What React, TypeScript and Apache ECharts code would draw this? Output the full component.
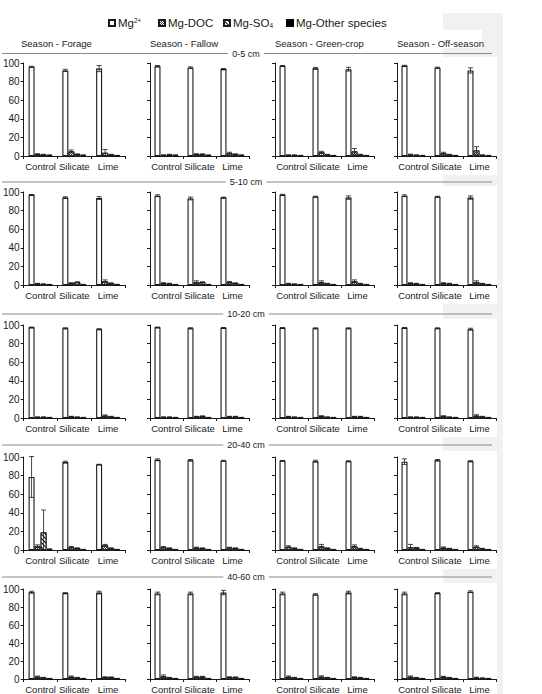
import React, { useEffect, useRef } from "react";
import * as echarts from "echarts";

const treatments = ["Control", "Silicate", "Lime"];
const seasons = ["Season - Forage", "Season - Fallow", "Season - Green-crop", "Season - Off-season"];
const depths = ["0-5 cm", "5-10 cm", "10-20 cm", "20-40 cm", "40-60 cm"];
const speciesNames = ["Mg2+", "Mg-DOC", "Mg-SO4", "Mg-Other species"];
const yTicks = [0, 20, 40, 60, 80, 100];

// Rows = soil depth; 12 values = 4 seasons x (Control, Silicate, Lime)
const mgFree = [
  [96, 92, 94, 96.5, 95, 93.5, 96.8, 94.3, 93.3, 97, 95, 92],
  [97, 94, 93.5, 96, 93, 94, 97, 95, 94, 96, 95, 94],
  [97.5, 96.5, 95.5, 97.5, 96.5, 97, 97, 96.5, 96.5, 97, 96.5, 95.5],
  [78.5, 94.5, 92, 97, 96.5, 96, 96, 95.5, 95.5, 95, 96.5, 95.5],
  [96.5, 95.5, 96, 95, 95, 96, 95, 94, 96, 95, 95.5, 97],
];
const mgFreeErr = [
  [0.5, 1.2, 3.3, 0.8, 0.8, 0.6, 0.5, 1, 2, 0.5, 0.5, 2.8],
  [0.3, 0.8, 1.5, 1, 1.5, 0.5, 0.5, 0.5, 1.8, 1, 0.5, 1.8],
  [0.3, 0.6, 0.6, 0.3, 0.6, 0.3, 0.3, 0.5, 0.5, 0.3, 0.5, 1],
  [22, 1, 0.2, 1, 0.8, 0.5, 0.3, 1, 0.5, 3, 0.8, 0.6],
  [1, 0.5, 1.5, 1.5, 1.5, 2.5, 1.5, 0.8, 1.5, 1.5, 0.5, 1],
];
const mgDoc = [
  [2, 5, 3.5, 1, 2, 3, 1, 4, 5, 1.5, 3, 6],
  [1.5, 2, 4, 2, 3, 3, 1.5, 3, 4, 2, 2, 3],
  [1, 1.5, 2.5, 1, 1.5, 1.5, 1.5, 2, 1.5, 1, 2, 2.5],
  [4, 3, 5, 3, 2.5, 2.5, 3.5, 4, 4, 3, 2.5, 3.5],
  [2.5, 2.5, 2, 3, 2.5, 2, 2.5, 2.5, 2, 2.5, 2.5, 1.5],
];
const mgDocErr = [
  [0.5, 1.5, 3.5, 0.3, 0.5, 1, 0.3, 1, 3, 0.5, 1, 4],
  [0.3, 0.5, 1.5, 0.5, 1.5, 0.8, 0.3, 1.5, 1.5, 0.5, 0.5, 1.5],
  [0.2, 0.3, 0.8, 0.2, 0.3, 0.3, 0.3, 0.5, 0.3, 0.2, 0.5, 1],
  [1.5, 0.8, 1, 0.8, 0.5, 0.5, 1, 2, 1.5, 3, 0.8, 1],
  [0.8, 0.8, 0.5, 1.5, 0.5, 0.5, 0.8, 1, 0.5, 0.8, 0.5, 0.5],
];
const mgSo4 = [
  [1.5, 2, 1.5, 1.5, 2, 2, 1, 1.5, 1.5, 1, 1.5, 1],
  [1, 3, 2, 1.5, 3, 2, 1, 1.5, 1.5, 1.5, 1.5, 1.5],
  [1, 1, 1.5, 1, 2, 1.5, 1, 1, 1.5, 1, 1, 1.5],
  [19, 2, 2, 2, 2, 2, 2, 2, 1.5, 2.5, 1.5, 1.5],
  [1.5, 1.5, 2, 1.5, 2.5, 2, 1.5, 1.5, 1.5, 1.5, 1.5, 1],
];
const mgSo4Err = [
  [0.3, 0.3, 0.3, 0.3, 0.3, 0.3, 0.3, 0.3, 0.3, 0.3, 0.3, 0.3],
  [0.3, 0.5, 0.3, 0.3, 0.5, 0.3, 0.3, 0.3, 0.3, 0.3, 0.3, 0.3],
  [0.2, 0.2, 0.3, 0.2, 0.3, 0.3, 0.2, 0.2, 0.3, 0.2, 0.2, 0.3],
  [24, 0.3, 0.3, 0.3, 0.3, 0.3, 0.3, 0.3, 0.3, 0.3, 0.3, 0.3],
  [0.3, 0.3, 0.3, 0.3, 0.5, 0.3, 0.3, 0.3, 0.3, 0.3, 0.3, 0.3],
];
const mgOther = [
  [1, 1, 0.5, 1, 1, 1, 0.5, 0.5, 0.5, 0.5, 0.5, 0.5],
  [0.5, 0.5, 0.5, 0.5, 0.5, 0.5, 0.5, 0.5, 0.5, 0.5, 0.5, 0.5],
  [0.5, 0.5, 0.5, 0.5, 0.5, 0.5, 0.5, 0.5, 0.5, 0.5, 0.5, 0.5],
  [1, 0.5, 0.5, 0.5, 0.5, 0.5, 0.5, 0.5, 0.5, 0.5, 0.5, 0.5],
  [0.5, 0.5, 0.5, 0.5, 0.5, 0.5, 0.5, 0.5, 0.5, 0.5, 0.5, 0.5],
];
const mgOtherErr = [
  [0.2, 0.2, 0.2, 0.2, 0.2, 0.2, 0.2, 0.2, 0.2, 0.2, 0.2, 0.2],
  [0.2, 0.2, 0.2, 0.2, 0.2, 0.2, 0.2, 0.2, 0.2, 0.2, 0.2, 0.2],
  [0.2, 0.2, 0.2, 0.2, 0.2, 0.2, 0.2, 0.2, 0.2, 0.2, 0.2, 0.2],
  [0.2, 0.2, 0.2, 0.2, 0.2, 0.2, 0.2, 0.2, 0.2, 0.2, 0.2, 0.2],
  [0.2, 0.2, 0.2, 0.2, 0.2, 0.2, 0.2, 0.2, 0.2, 0.2, 0.2, 0.2],
];

const FONT = "'Liberation Sans', Arial, Helvetica, sans-serif";
const INK = "#1a1a1a";
const BAR_W = 6;

const gridLefts = [21, 150, 275, 397];
const gridWidths = [104, 99, 99, 99];
const gridTops = [63, 192, 325, 457, 589];
const GRID_H = 93;
const depthLineY = [53.5, 182, 314, 445, 577];
const legendLefts = [108, 158, 223, 286];

const docDecal = {
  symbol: "rect",
  symbolSize: 1,
  color: "#3a3a3a",
  dashArrayX: [[1, 1], [0, 1, 1, 0]],
  dashArrayY: [1, 0],
};
const so4Decal = {
  symbol: "rect",
  symbolSize: 1,
  color: "#000",
  dashArrayX: [1, 0],
  dashArrayY: [1, 2],
  rotation: Math.PI / 4,
};

const itemStyles: any[] = [
  { color: "#fff", borderColor: INK, borderWidth: 1.1 },
  { color: "#fff", borderColor: INK, borderWidth: 0.8, decal: docDecal },
  { color: "#fff", borderColor: INK, borderWidth: 0.8, decal: so4Decal },
  { color: "#000", borderColor: "#000", borderWidth: 0.8 },
];

const values = [mgFree, mgDoc, mgSo4, mgOther];
const errors = [mgFreeErr, mgDocErr, mgSo4Err, mgOtherErr];

function legendFormatter(name: string) {
  if (name === "Mg2+") return "{b|Mg}{sup|2+}";
  if (name === "Mg-SO4") return "{b|Mg-SO}{sub|4}";
  return "{b|" + name + "}";
}

export default function App() {
  const ref = useRef<HTMLDivElement>(null);
  useEffect(() => {
    const chart = echarts.init(ref.current!, null, { renderer: "svg" });
    const grid: any[] = [];
    const xAxis: any[] = [];
    const yAxis: any[] = [];
    const series: any[] = [];

    for (let r = 0; r < depths.length; r++) {
      for (let c = 0; c < seasons.length; c++) {
        const idx = r * seasons.length + c;
        grid.push({ left: gridLefts[c], top: gridTops[r], width: gridWidths[c], height: GRID_H });
        xAxis.push({
          type: "category",
          gridIndex: idx,
          data: treatments,
          axisLine: { show: true, lineStyle: { color: INK, width: 1 } },
          axisTick: { show: true, length: 3, lineStyle: { color: INK } },
          axisLabel: { interval: 0, fontSize: 9.5, fontFamily: FONT, color: INK, margin: 5 },
          splitLine: { show: false },
        });
        yAxis.push({
          type: "value",
          gridIndex: idx,
          min: yTicks[0],
          max: yTicks[yTicks.length - 1],
          interval: yTicks[1] - yTicks[0],
          axisLine: { show: true, lineStyle: { color: INK, width: 1 } },
          axisTick: { show: true, length: 3, lineStyle: { color: INK } },
          axisLabel: { show: c === 0, fontSize: 10, fontFamily: FONT, color: INK, margin: 4 },
          splitLine: { show: false },
        });
        const errData: any[] = [];
        for (let s = 0; s < 4; s++) {
          const vals = values[s][r].slice(c * 3, c * 3 + 3);
          const errs = errors[s][r].slice(c * 3, c * 3 + 3);
          series.push({
            type: "bar",
            name: speciesNames[s],
            xAxisIndex: idx,
            yAxisIndex: idx,
            data: vals,
            barWidth: BAR_W,
            barGap: "0%",
            itemStyle: itemStyles[s],
            emphasis: { disabled: true },
          });
          vals.forEach((v: number, k: number) => errData.push([k, v, errs[k], s]));
        }
        series.push({
          type: "custom",
          name: "err",
          xAxisIndex: idx,
          yAxisIndex: idx,
          z: 5,
          encode: { x: 0, y: 1 },
          data: errData,
          renderItem: (params: any, api: any) => {
            const k = api.value(0);
            const v = api.value(1);
            const e = api.value(2);
            const s = api.value(3);
            const mid = api.coord([k, v]);
            const hi = api.coord([k, v + e]);
            const lo = api.coord([k, Math.max(0, v - e)]);
            const x = mid[0] + (s - 1.5) * BAR_W;
            const half = 2.5;
            const st = { stroke: INK, lineWidth: 0.8 };
            return {
              type: "group",
              children: [
                { type: "line", shape: { x1: x, y1: hi[1], x2: x, y2: lo[1] }, style: st },
                { type: "line", shape: { x1: x - half, y1: hi[1], x2: x + half, y2: hi[1] }, style: st },
                { type: "line", shape: { x1: x - half, y1: lo[1], x2: x + half, y2: lo[1] }, style: st },
              ],
            };
          },
        });
      }
    }

    const graphic: any[] = [];
    // faint scan shading on the right side
    graphic.push({ type: "rect", z: -100, silent: true, shape: { x: 443, y: 13, width: 60, height: 681 }, style: { fill: "#f1f1f1" } });
    graphic.push({ type: "rect", z: -99, silent: true, shape: { x: 395, y: 30, width: 87, height: 18 }, style: { fill: "#fff" } });
    gridTops.forEach((t) => {
      graphic.push({ type: "rect", z: -99, silent: true, shape: { x: 395, y: t - 6, width: 102, height: 118 }, style: { fill: "#fff" } });
    });
    seasons.forEach((s, c) => {
      graphic.push({
        type: "text",
        x: gridLefts[c],
        y: 43,
        style: { text: s, fontSize: 9.5, fontFamily: FONT, fill: INK, verticalAlign: "middle", align: "left" },
      });
    });
    depths.forEach((d, r) => {
      graphic.push({
        type: "line",
        shape: { x1: 2, y1: depthLineY[r], x2: 492, y2: depthLineY[r] },
        style: { stroke: "#8a8a8a", lineWidth: 1 },
      });
      graphic.push({
        type: "text",
        x: 246,
        y: depthLineY[r],
        z: 10,
        style: {
          text: d,
          fontSize: 9,
          fontFamily: FONT,
          fill: INK,
          align: "center",
          verticalAlign: "middle",
          backgroundColor: "#fff",
          padding: [1, 4],
        },
      });
    });

    const legend = speciesNames.map((n, i) => ({
      data: [n],
      left: legendLefts[i],
      top: 17,
      padding: 0,
      itemWidth: 6,
      itemHeight: 6,
      itemGap: 0,
      icon: "rect",
      selectedMode: false,
      formatter: legendFormatter,
      textStyle: {
        fontFamily: FONT,
        color: INK,
        padding: [0, 0, 0, -2],
        rich: {
          b: { fontSize: 11.5, fontFamily: FONT, color: INK },
          sup: { fontSize: 6.5, fontFamily: FONT, color: INK, verticalAlign: "top" },
          sub: { fontSize: 6.5, fontFamily: FONT, color: INK, verticalAlign: "bottom" },
        },
      },
    }));

    chart.setOption({
      animation: false,
      backgroundColor: "#fff",
      legend,
      grid,
      xAxis,
      yAxis,
      series,
      graphic,
    });
    return () => chart.dispose();
  }, []);
  return (
    <div
      ref={ref}
      style={{ position: "fixed", left: 0, top: 0, width: 542, height: 694, background: "#fff" }}
    />
  );
}
